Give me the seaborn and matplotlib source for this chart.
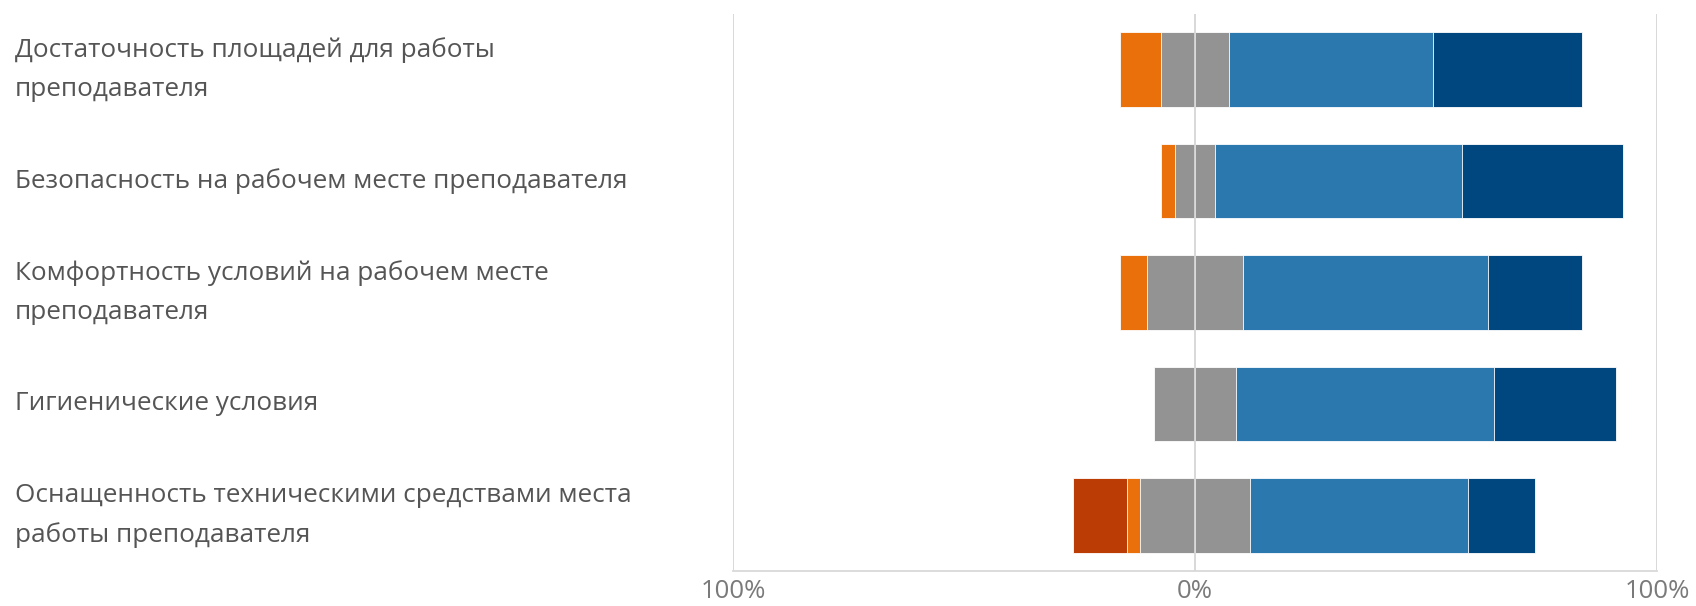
import numpy as np
import pandas as pd
import matplotlib
matplotlib.use("Agg")
import matplotlib.pyplot as plt
import seaborn as sns

# -----------------------------
# DATA (percent of answers)
# -----------------------------
categories = [
    "Достаточность площадей для работы\nпреподавателя",
    "Безопасность на рабочем месте преподавателя",
    "Комфортность условий на рабочем месте\nпреподавателя",
    "Гигиенические условия",
    "Оснащенность техническими средствами места\nработы преподавателя",
]
very_bad = [0.0, 0.0, 0.0, 0.0, 11.7]
bad = [8.7, 2.9, 5.8, 0.0, 2.9]
neutral = [14.9, 8.8, 20.8, 17.7, 23.8]
good = [44.1, 53.3, 53.0, 55.9, 47.2]
very_good = [32.3, 35.0, 20.4, 26.4, 14.4]

tick_values = [-100, 0, 100]
tick_labels = ["100%", "0%", "100%"]

colors = {
    "very_bad": "#BB3C04",
    "bad": "#E9700A",
    "neutral": "#939393",
    "good": "#2B78AF",
    "very_good": "#00467F",
}

# -----------------------------
# CUMULATIVE EDGES (diverging around the neutral midpoint)
# -----------------------------
df = pd.DataFrame({
    "cat": categories,
    "very_bad": very_bad,
    "bad": bad,
    "neutral": neutral,
    "good": good,
    "very_good": very_good,
})
half = df["neutral"] / 2
df["r_neutral"] = half
df["r_good"] = half + df["good"]
df["r_very_good"] = df["r_good"] + df["very_good"]
df["l_neutral"] = -half
df["l_bad"] = -half - df["bad"]
df["l_very_bad"] = df["l_bad"] - df["very_bad"]

# -----------------------------
# PLOT
# -----------------------------
sns.set_style("white")
plt.rcParams["font.family"] = ["Open Sans", "DejaVu Sans"]

W, H = 1696, 606
fig = plt.figure(figsize=(W / 100, H / 100), dpi=100)
ax = fig.add_axes([733 / W, (H - 571) / H, (1657 - 733) / W, (571 - 14) / H])

# draw from the outermost segment inwards so the inner ones sit on top
layers = [
    ("r_very_good", "very_good"),
    ("r_good", "good"),
    ("l_very_bad", "very_bad"),
    ("l_bad", "bad"),
    ("r_neutral", "neutral"),
    ("l_neutral", "neutral"),
]
for col, key in layers:
    sns.barplot(data=df, x=col, y="cat", orient="h", color=colors[key],
                width=0.67, saturation=1, edgecolor="#ffffff",
                linewidth=0.6, ax=ax, zorder=2)

ax.set_xlim(-100, 100)
ax.set_ylim(4.5, -0.5)
for x in tick_values:
    ax.axvline(x, color="#d6d6d6", lw=1.3, zorder=3 if x == 0 else 1)

for s in ["top", "right", "left"]:
    ax.spines[s].set_visible(False)
ax.spines["bottom"].set_color("#d9d9d9")
ax.spines["bottom"].set_linewidth(1.3)

ax.set_xticks(tick_values)
ax.set_xticklabels(tick_labels, color="#7a7a7a", fontsize=18.5)
ax.tick_params(axis="x", length=0, pad=6)

ax.set_yticks(range(len(categories)))
ax.set_yticklabels(categories, ha="left", va="center", color="#555555",
                   fontsize=18.8, linespacing=1.7)
ax.tick_params(axis="y", length=0, pad=(733 - 15) * 0.72)

ax.set_xlabel("")
ax.set_ylabel("")

fig.savefig("out.png", dpi=100)
